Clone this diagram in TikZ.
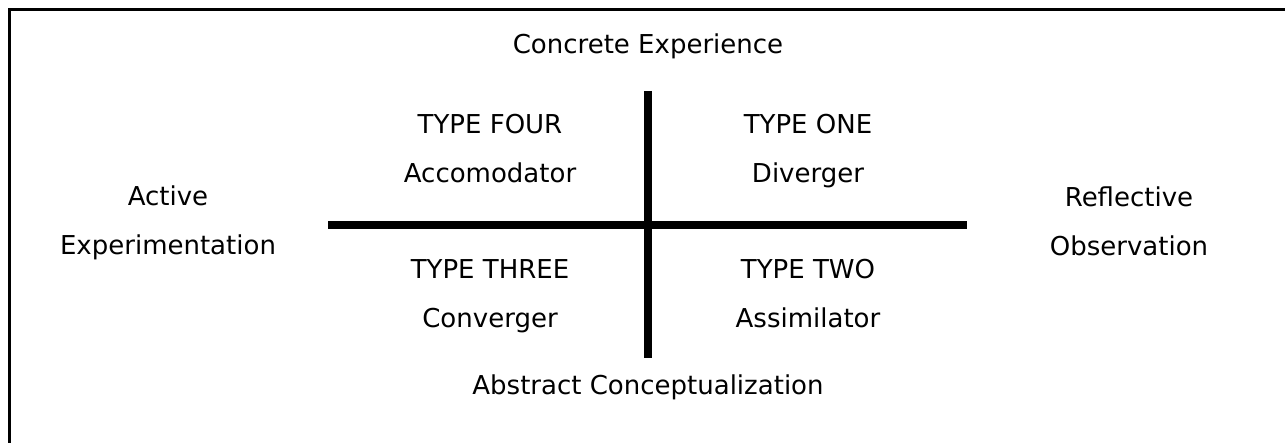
\documentclass[tikz,border=0pt]{standalone}
\usepackage{fontspec}
\setmainfont{DejaVu Sans}
\usetikzlibrary{positioning}
\newcommand{\Line}[1]{#1\vphantom{dg}}
\tikzstyle{axislabel} = [align=center, inner sep=0pt, font=\fontsize{26}{49}\selectfont]
\tikzstyle{quad} = [axislabel]

\begin{document}
\begin{tikzpicture}[x=1pt, y=-1pt, bar/.style={line width=8.5pt}, frame/.style={line width=3.5pt}]
\useasboundingbox (0,0) rectangle (1285,443);

% Frame
\draw[frame] (1286,9.5) -- (9.5,9.5) -- (9.5,444);

% Define nodes
\node[axislabel] (ce) at (648,46)  {\Line{Concrete Experience}};
\node[axislabel] (ac) at (648,387) {\Line{Abstract Conceptualization}};
\node[axislabel] (ae) at (168,223) {\Line{Active}\\\Line{Experimentation}};
\node[axislabel] (ro) at (1129,224) {\Line{Reflective}\\\Line{Observation}};

\node[quad] (q4) at (490,151) {\Line{TYPE FOUR}\\\Line{Accomodator}};
\node[quad] (q1) at (808,151) {\Line{TYPE ONE}\\\Line{Diverger}};
\node[quad] (q3) at (490,296) {\Line{TYPE THREE}\\\Line{Converger}};
\node[quad] (q2) at (808,296) {\Line{TYPE TWO}\\\Line{Assimilator}};

% Axes
\coordinate (top)    at (648,91);
\coordinate (bottom) at (648,358);
\coordinate (left)   at (328,225);
\coordinate (right)  at (967,225);

\draw[bar] (left) -- (right);
\draw[bar] (top) -- (bottom);
\end{tikzpicture}
\end{document}
